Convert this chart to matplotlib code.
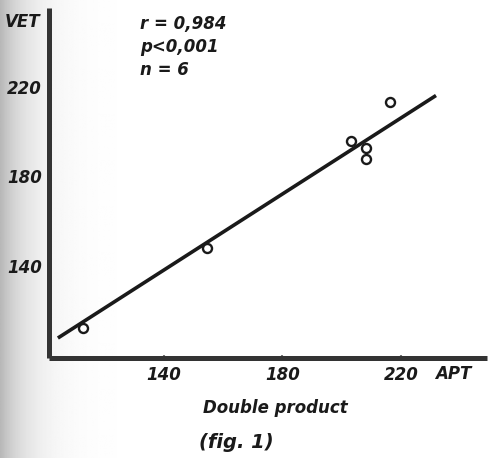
import matplotlib
matplotlib.use("Agg")
import matplotlib.pyplot as plt
import numpy as np

# data
apt = [112.7, 154.5, 203.3, 208.3, 208.3, 216.4]   # Double product (APT)
vet = [112.3, 148.0, 195.6, 192.5, 187.6, 212.9]   # VET
line_apt = [104.3, 231.8]
line_vet = [107.9, 216.0]
xticks = [140, 180, 220]
yticks = [140, 180, 220]
stats = ["r = 0,984", "p<0,001", "n = 6"]

W, H = 488, 458
fig = plt.figure(figsize=(W / 100, H / 100), dpi=100)
fig.patch.set_facecolor("white")

# faint scan shading along the left edge
bg = fig.add_axes([0, 0, 1, 1], zorder=-5)
grad = np.linspace(0, 1, 400)
shade = np.clip(1 - 0.28 * np.exp(-grad * 18), 0, 1)
bg.imshow(np.tile(shade, (10, 1)), cmap="gray", vmin=0, vmax=1, aspect="auto",
          extent=[0, 1, 0, 1])
bg.set_axis_off()

L, R, B, T = 49, 487, 358, 8
ax = fig.add_axes([L / W, 1 - B / H, (R - L) / W, (B - T) / H])
ax.set_facecolor("none")
ax.set_xlim(101.3, 249)
ax.set_ylim(99, 255)

ink = "#1a1a1a"
for s in ["top", "right"]:
    ax.spines[s].set_visible(False)
for s in ["left", "bottom"]:
    ax.spines[s].set_linewidth(3.6)
    ax.spines[s].set_color("#333333")
    ax.spines[s].set_capstyle("butt")

ax.plot(line_apt, line_vet, color=ink, lw=2.6, solid_capstyle="butt")
ax.plot(apt, vet, "o", ms=6.5, mfc="white", mec=ink, mew=1.7, zorder=3)

font = dict(family="DejaVu Sans", weight="bold", style="italic")
ax.set_xticks(xticks)
ax.set_yticks(yticks)
ax.tick_params(direction="in", length=2, width=1.5, color="#777777")
ax.tick_params(axis="x", pad=6)
ax.tick_params(axis="y", pad=5)
ax.set_xticklabels([str(v) for v in xticks], fontsize=12, color=ink, **font)
ax.set_yticklabels([str(v) for v in yticks], fontsize=12, color=ink, **font)

def ftext(x, y, s, **kw):
    fig.text(x / W, 1 - y / H, s, **kw)

ftext(5, 22, "VET", ha="left", va="center", fontsize=12, color=ink, **font)
ftext(435, 374, "APT", ha="left", va="center", fontsize=12, color=ink, **font)
for i, s in enumerate(stats):
    ftext(140, 24 + i * 23, s, ha="left", va="center", fontsize=12, color=ink, **font)
ftext(275, 408, "Double product", ha="center", va="center", fontsize=12, color=ink, **font)
ftext(236, 442, "(fig. 1)", ha="center", va="center", fontsize=14, color=ink, **font)

fig.savefig("out.png", dpi=100)
